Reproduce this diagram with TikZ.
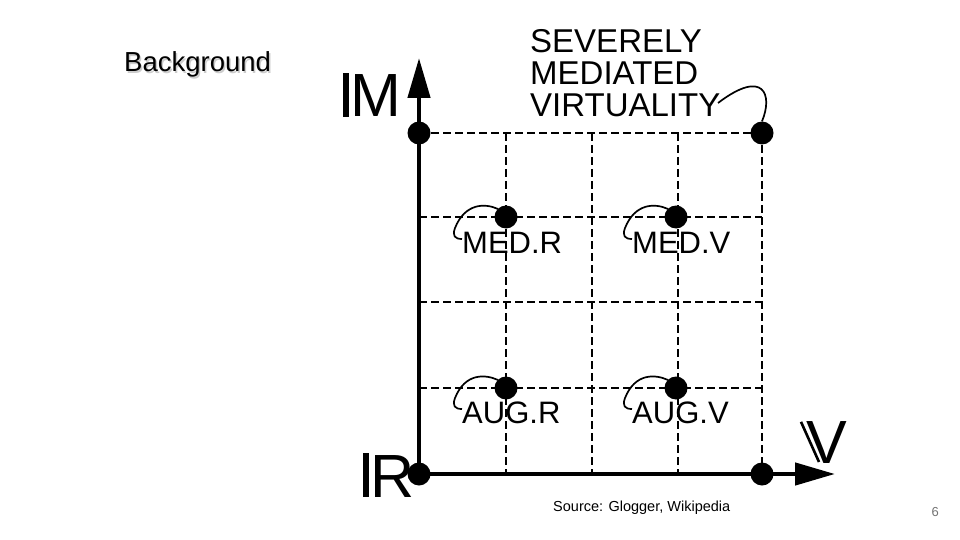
\documentclass[tikz,border=0pt]{standalone}
\usepackage{fontspec}
\setmainfont{Liberation Sans}
\usetikzlibrary{arrows.meta}

\tikzset{
  dot/.style={circle,fill=black,inner sep=0pt,minimum size=23pt},
  gridline/.style={line width=2pt,dash pattern=on 8pt off 4pt},
  axis/.style={line width=4.5pt,-{Triangle[length=40pt,width=22pt]}},
  hook/.style={line width=1.7pt},
  celltext/.style={inner sep=0pt,anchor=base west,font=\fontsize{31}{31}\selectfont},
  axistext/.style={inner sep=0pt,anchor=base west,font=\fontsize{61}{61}\selectfont}
}
% double-struck look: a bar in front of the letter
\newcommand{\dbar}{\rule{6pt}{43.7pt}\kern1pt}

\begin{document}
\begin{tikzpicture}[x=1pt,y=-1pt]
\useasboundingbox (0,0) rectangle (960,540);
\begin{scope}
  \node[anchor=base west,inner sep=0pt,text=black!20,font=\fontsize{27.5}{27.5}\selectfont] at (125.5,73.5) {Background};
  \node[anchor=base west,inner sep=0pt,font=\fontsize{27.5}{27.5}\selectfont] (title) at (124,72) {Background};
  \node[anchor=base west,inner sep=0pt,font=\fontsize{14.5}{14.5}\selectfont] (source) at (553,511) {Source: Glogger, Wikipedia};
  \node[anchor=base east,inner sep=0pt,text=black!55,font=\fontsize{13}{13}\selectfont] (pagenum) at (939,516) {6};
\end{scope}
% grid
\foreach \y in {133,217,302,388}
  \draw[gridline] (419,\y) -- (762,\y);
\foreach \x in {506,592,678,762}
  \draw[gridline] (\x,133) -- (\x,474);
% axes
\coordinate (origin) at (419,474);
\coordinate (imtip) at (419,58);
\coordinate (vtip) at (835,474);
\draw[axis] (origin) -- (imtip);
\draw[axis] (origin) -- (vtip);
\node[axistext] (im) at (343,117) {\dbar M};
\node[axistext] (re) at (363,497) {\dbar R};
\node[axistext] (vi) at (806,463) {V};
\draw[line width=2.6pt] ([shift={(-5,1)}]vi.north west) -- ([shift={(13,-1)}]vi.base west);
% points
\node[dot] (pr) at (419,474) {};
\node[dot] (pv) at (762,474) {};
\node[dot] (psmv) at (419,133) {};
\node[dot] (smv) at (762,133) {};
\node[dot] (medr) at (506,217) {};
\node[dot] (medv) at (676,217) {};
\node[dot] (augr) at (506,388) {};
\node[dot] (augv) at (676,388) {};
% labels
\node[inner sep=0pt,anchor=north west,align=left,font=\fontsize{33}{32}\selectfont] (smvtext) at (530,29) {SEVERELY\\MEDIATED\\VIRTUALITY};
\node[celltext] (medrtext) at (462,253) {MED.R};
\node[celltext] (medvtext) at (632,253) {MED.V};
\node[celltext] (augrtext) at (462,423) {AUG.R};
\node[celltext] (augvtext) at (632,423) {AUG.V};
% hooks
\coordinate (smvend) at (718,103);
\draw[hook] (smv.north) .. controls (773,95) and (764,68) .. (smvend);
\foreach \p/\t in {medr/medrtext,medv/medvtext,augr/augrtext,augv/augvtext}
  \draw[hook] ([shift={(-8,-8)}]\p.center) .. controls +(-13,-6) and +(10,-25) .. ([shift={(-7,-25)}]\t.base west)
    .. controls +(-3,8) and +(-7,0) .. ([shift={(0,-14)}]\t.base west);
\end{tikzpicture}
\end{document}
